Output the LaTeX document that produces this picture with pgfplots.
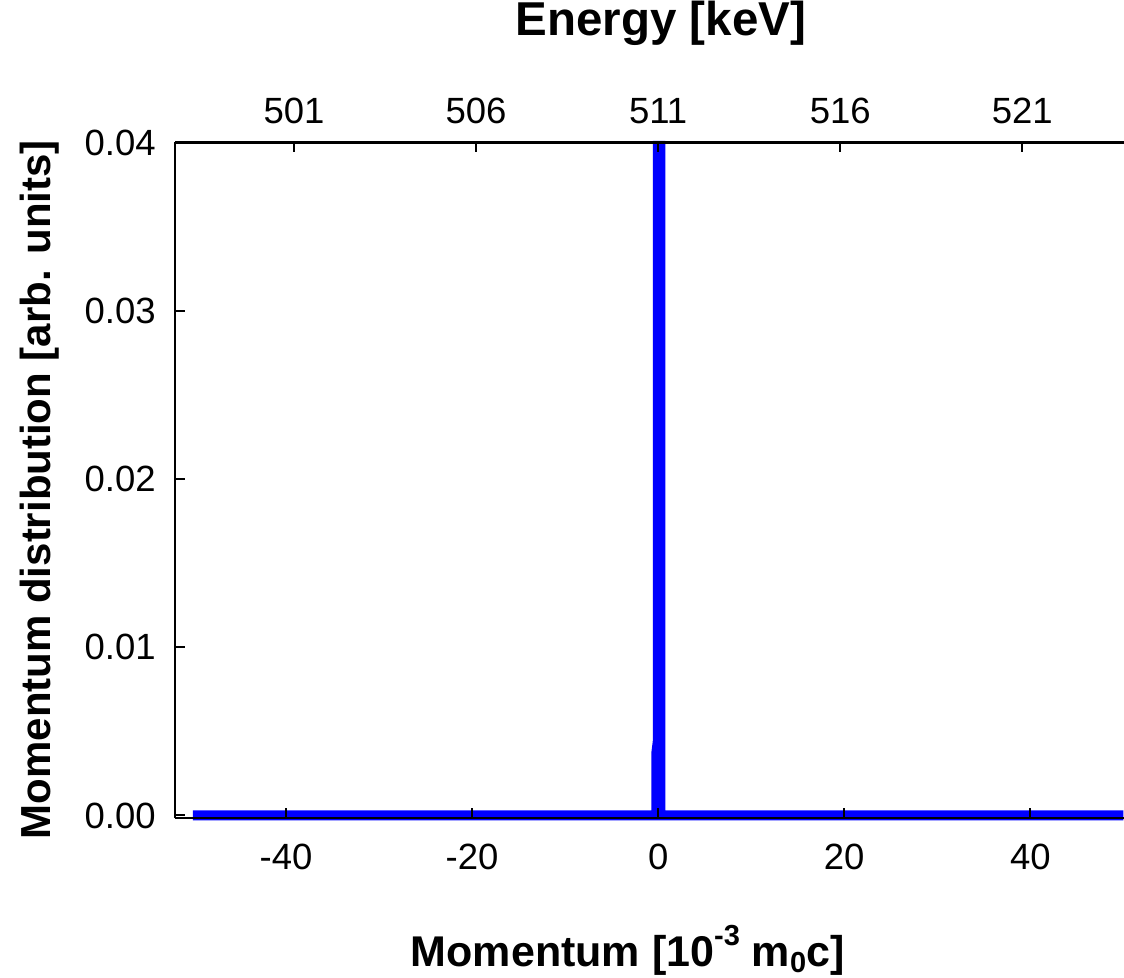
\documentclass[border=0pt]{standalone}
\usepackage{pgfplots}
\pgfplotsset{compat=1.18}
\usepackage{fontspec}
\setmainfont{Liberation Sans}
\begin{document}
\begin{tikzpicture}
\begin{axis}[
  name=main,
  scale only axis, width=949bp, height=675.5bp,
  xmin=-51.93, xmax=50.07, ymin=-0.00015, ymax=0.04,
  axis x line*=bottom, axis y line*=left,
  axis line style={line width=2.5bp, black},
  tick style={line width=2bp, black},
  tick align=inside, major tick length=10bp,
  xtick={-40,-20,0,20,40}, ytick={0,0.01,0.02,0.03,0.04},
  scaled y ticks=false,
  /pgf/number format/assume math mode=true,
  y tick label style={/pgf/number format/fixed, /pgf/number format/fixed zerofill, /pgf/number format/precision=2, xshift=-15.8bp},
  x tick label style={yshift=-22bp},
  tick label style={font=\fontsize{36.5bp}{40bp}\selectfont},
  axis on top, clip=false,
  xlabel={\textbf{Momentum [10\raisebox{21bp}{\fontsize{29bp}{30bp}\selectfont -3} m\raisebox{-6bp}{\fontsize{29bp}{30bp}\selectfont 0}c]}},
  ylabel={\textbf{Momentum distribution [arb. units]}},
  title={\textbf{Energy [keV]}},
  xlabel style={at={(axis description cs:0.477,-0.2191)}, anchor=base, font=\fontsize{43bp}{50bp}\selectfont},
  ylabel style={at={(axis description cs:-0.1317,0.486)}, anchor=base, rotate=0, font=\fontsize{42bp}{48bp}\selectfont},
  title style={at={(axis description cs:0.512,1.1493)}, anchor=base, font=\fontsize{47.5bp}{50bp}\selectfont},
]
\addplot[color={rgb,255:red,0;green,0;blue,255}, line width=10bp, line join=miter] coordinates {
(-50,0) (-0.2,0) (-0.2,0.0037) (-0.02,0.0045) (-0.02,0.0398) (0.24,0.0398) (0.24,0) (50,0)
};
\end{axis}
\begin{axis}[
  scale only axis, width=949bp, height=675.5bp,
  xmin=497.732, xmax=523.793, ymin=0, ymax=1,
  axis x line*=top, axis y line=none,
  axis line style={line width=2.5bp, black},
  tick style={line width=2bp, black},
  tick align=inside, major tick length=10bp,
  xtick={501,506,511,516,521},
  /pgf/number format/assume math mode=true,
  x tick label style={yshift=14.8bp, font=\fontsize{36.5bp}{40bp}\selectfont},
]
\addplot[draw=none] coordinates {(500,0.5)};
\end{axis}
\pgfresetboundingbox
\path[use as bounding box] (main.south west) ++(-175bp,-160bp) rectangle ++(1124bp,978bp);
\end{tikzpicture}
\end{document}
